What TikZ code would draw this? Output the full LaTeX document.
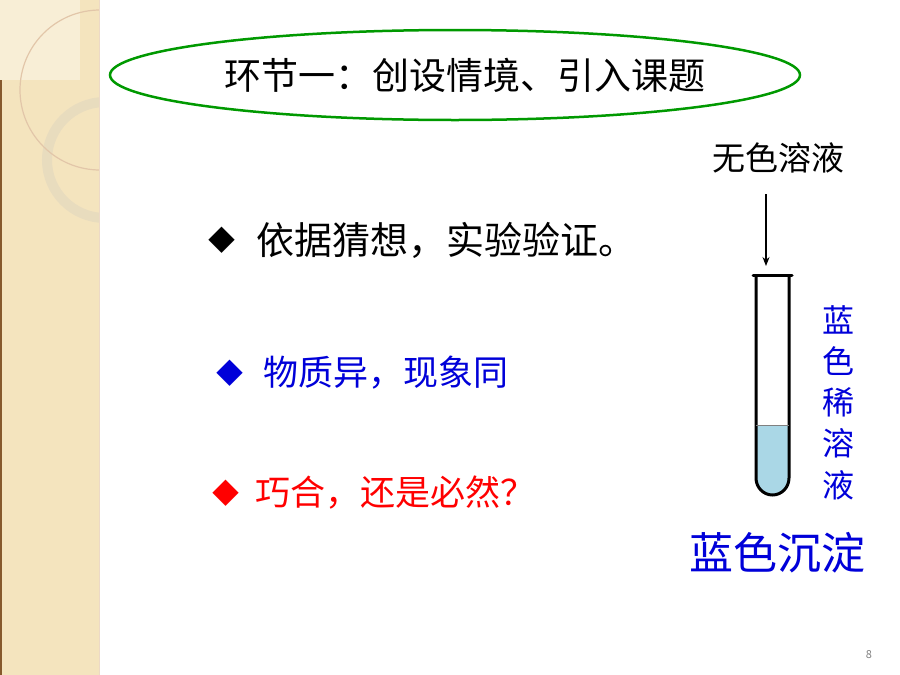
\documentclass[tikz,border=0pt]{standalone}
\usepackage{fontspec}
\usetikzlibrary{shapes.geometric,arrows.meta}
\setmainfont{Noto Sans CJK SC}
\definecolor{strip}{RGB}{244,228,190}
\definecolor{stripl}{RGB}{248,238,214}
\definecolor{ring}{RGB}{232,220,190}
\definecolor{liq}{RGB}{170,215,230}
\begin{document}
\begin{tikzpicture}[x=1pt,y=-1pt,
  txt/.style={inner sep=0pt},
  big/.style={txt,font=\fontsize{35}{38}\selectfont},
  dia/.style={txt,font=\fontsize{27}{30}\selectfont}]
\useasboundingbox (0,0) rectangle (900,675);
\fill[white] (0,0) rectangle (900,675);
% left strip
\fill[strip] (0,0) rectangle (100,675);
\begin{scope}
\clip (0,0) rectangle (99,675);
\fill[stripl] (0,0) rectangle (80,80);
\draw[ring,line width=10] (105,160) circle (58);
\draw[brown!45,line width=1.2] (100,90) circle (80);
\end{scope}
\fill[brown!70!black] (0,80) rectangle (2,675);
\draw[brown!30,line width=0.8] (99,0) -- (99,675);
% title ellipse
\node[draw=green!60!black,line width=2.5,ellipse,minimum width=690,minimum height=90,inner sep=0] (ell) at (455,75) {};
\node[txt,font=\fontsize{37}{40}\selectfont] (title) at (465,75) {环节一：创设情境、引入课题};
% bullets
\node[dia] (d1) at (222,240) {◆};
\node[big,anchor=west,font=\fontsize{38}{40}\selectfont] (b1) at (256,240) {依据猜想，实验验证。};
\node[dia,text=blue!85!black] (d2) at (230,373) {◆};
\node[big,anchor=west,text=blue!85!black] (b2) at (263,373) {物质异，现象同};
\node[dia,text=red] (d3) at (226,493) {◆};
\node[big,anchor=west,text=red] (b3) at (255,493) {巧合，还是必然？};
% tube
\node[txt,font=\fontsize{33}{36}\selectfont] (nc) at (778,158) {无色溶液};
\coordinate (tt) at (766,266);
\draw[-{Stealth[length=9,width=7]},line width=1.2] (766,194) -- (tt);
\fill[liq] (756,425) -- (756,478) arc[start angle=180,end angle=0,x radius=16.5,y radius=17] -- (789,425) -- cycle;
\draw[line width=3] (756,276) -- (756,478) arc[start angle=180,end angle=0,x radius=16.5,y radius=17] -- (789,276);
\draw[line width=3,line cap=round] (753,275) -- (792,275);
\draw[gray,line width=0.6] (756,425) -- (789,425);
\foreach \c/\y in {蓝/320,色/361,稀/402,溶/443,液/485}
  \node[txt,text=blue!85!black,font=\fontsize{32}{34}\selectfont] at (838,\y) {\c};
\node[txt,text=blue!85!black,font=\fontsize{44}{48}\selectfont] (res) at (777,553) {蓝色沉淀};
\node[txt,text=gray,font=\fontsize{11}{12}\selectfont] (pg) at (869,655) {8};
\end{tikzpicture}
\end{document}
